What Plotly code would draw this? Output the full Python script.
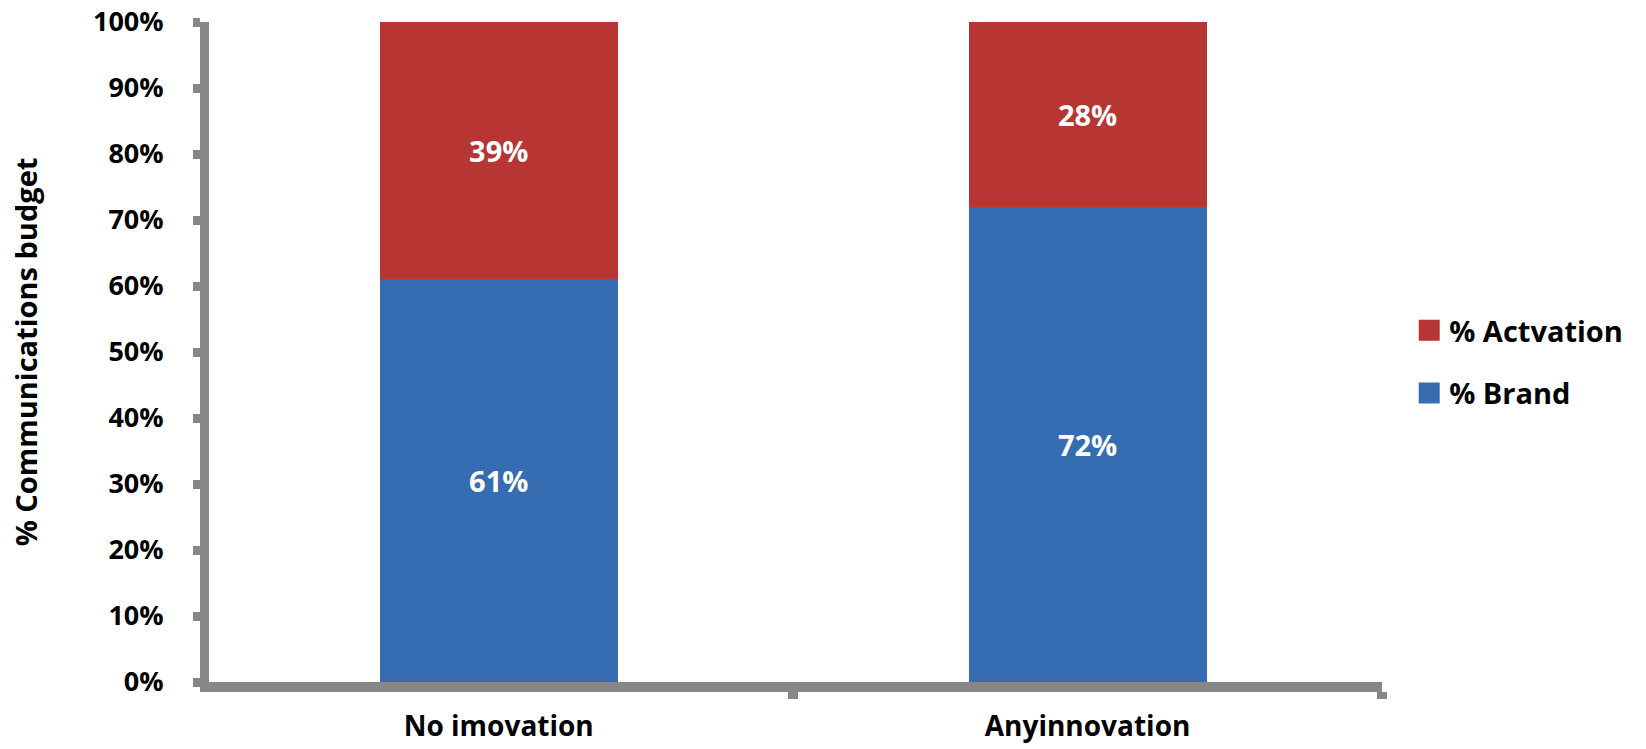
import plotly.graph_objects as go

# Share of communications budget by innovation status (stacked to 100%)
categories = ["No imovation", "Anyinnovation"]
brand_pct = [61, 72]
activation_pct = [39, 28]
y_ticks = [0, 10, 20, 30, 40, 50, 60, 70, 80, 90, 100]
y_tick_labels = [f"{v}%" for v in y_ticks]

BLUE = "#366db2"
RED = "#b73533"
AXIS = "#878787"
FONT = "Open Sans"

fig = go.Figure()

fig.add_trace(go.Bar(
    name="% Brand", x=categories, y=brand_pct,
    marker=dict(color=BLUE, line=dict(width=0)),
    text=[f"{v}%" for v in brand_pct],
    textposition="inside", insidetextanchor="middle", textangle=0,
    textfont=dict(family=FONT, size=29, color="white", weight=700),
    showlegend=False, hoverinfo="skip",
))
fig.add_trace(go.Bar(
    name="% Actvation", x=categories, y=activation_pct,
    marker=dict(color=RED, line=dict(width=0)),
    text=[f"{v}%" for v in activation_pct],
    textposition="inside", insidetextanchor="middle", textangle=0,
    textfont=dict(family=FONT, size=29, color="white", weight=700),
    showlegend=False, hoverinfo="skip",
))

# Legend entries with larger square swatches
for name, color, grp in [("% Actvation", RED, "a"), ("% Brand", BLUE, "b")]:
    fig.add_trace(go.Scatter(
        x=[None], y=[None], mode="markers", name=name, legendgroup=grp,
        marker=dict(symbol="square", size=16, color=color,
                    line=dict(width=5, color=color)),
        showlegend=True, hoverinfo="skip",
    ))

fig.update_layout(
    width=1646, height=749,
    barmode="stack", bargap=0.596,
    paper_bgcolor="white", plot_bgcolor="white",
    margin=dict(l=209, r=264, t=22, b=67, autoexpand=False),
    font=dict(family=FONT, color="black"),
    legend=dict(
        x=1.0232, xanchor="left", y=0.485, yanchor="middle",
        font=dict(family=FONT, size=29, color="black", weight=700),
        traceorder="grouped", tracegroupgap=22,
        bgcolor="rgba(0,0,0,0)", borderwidth=0,
    ),
    xaxis=dict(
        range=[-0.492, 1.5],
        showline=True, linewidth=10, linecolor=AXIS,
        ticks="outside", tickson="boundaries", ticklen=7, tickwidth=10, tickcolor=AXIS,
        showgrid=False, zeroline=False,
        tickfont=dict(family=FONT, size=28, color="black", weight=700),
        ticklabelstandoff=10,
    ),
    yaxis=dict(
        range=[0, 100], tickmode="array", tickvals=y_ticks, ticktext=y_tick_labels,
        showline=True, linewidth=9, linecolor=AXIS,
        ticks="outside", ticklen=7, tickwidth=9, tickcolor=AXIS,
        showgrid=False, zeroline=False,
        tickfont=dict(family=FONT, size=27, color="black", weight=700),
        ticklabelstandoff=24,
        title=dict(text="% Communications budget", standoff=50,
                   font=dict(family=FONT, size=29, color="black", weight=700)),
    ),
)

fig.write_html("out.html")
